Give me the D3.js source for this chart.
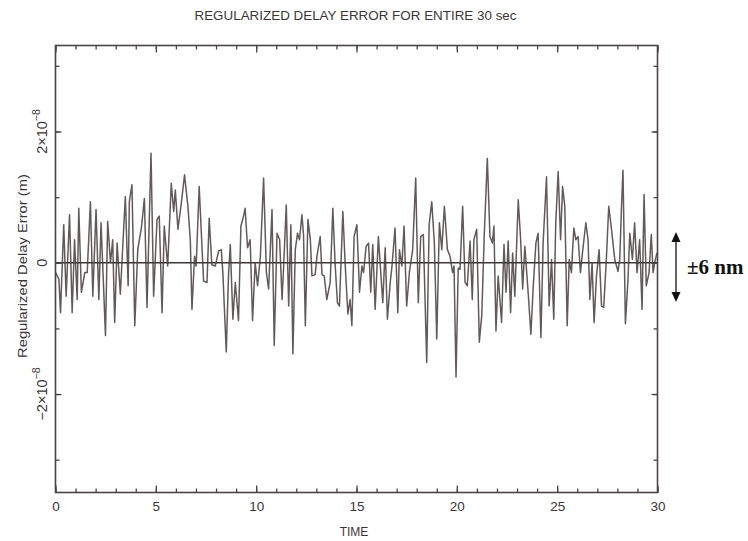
<!DOCTYPE html>
<html><head><meta charset="utf-8">
<script src="https://cdn.jsdelivr.net/npm/d3@7"></script>
<style>
html,body{margin:0;padding:0;background:#fff;}
svg{display:block;}
</style></head>
<body><svg id="c" width="748" height="541"></svg>
<script>
// Time in seconds
const timeSec = [
0.00,0.17,0.25,0.41,0.53,0.70,0.83,0.95,1.08,1.16,1.29,1.46,1.58,1.74,1.86,2.02,2.16,2.27,2.49,2.60,
2.74,2.85,2.95,3.07,3.23,3.48,3.62,3.68,3.81,3.95,4.10,4.28,4.43,4.56,4.76,4.89,5.06,5.17,5.31,5.42,
5.59,5.77,5.89,5.97,6.10,6.27,6.43,6.60,6.72,6.80,6.93,7.01,7.16,7.38,7.55,7.66,7.79,7.96,8.13,8.26,
8.34,8.51,8.62,8.71,8.84,8.96,9.12,9.24,9.37,9.45,9.57,9.70,9.82,9.95,
10.07,10.21,10.37,10.51,10.62,10.79,10.90,11.04,11.17,11.29,11.37,11.50,11.62,11.73,11.83,11.95,12.06,12.16,12.28,12.36,
12.45,12.58,12.70,12.78,12.94,13.03,13.19,13.28,13.39,13.52,13.69,13.82,13.94,14.05,14.15,14.32,14.44,14.57,14.68,14.77,
14.88,15.02,15.15,15.27,15.35,15.48,15.60,15.71,15.81,15.93,16.09,16.23,16.31,16.43,16.54,16.68,16.76,16.92,17.06,17.14,
17.26,17.37,17.50,17.64,17.80,17.95,18.08,18.20,18.33,18.50,18.62,18.75,18.88,19.00,19.13,19.25,19.38,19.53,19.66,
19.79,19.86,19.96,20.07,20.16,20.29,20.41,20.52,20.66,20.77,20.85,20.99,21.12,21.24,21.37,21.52,21.65,21.77,21.85,21.95,
22.06,22.23,22.35,22.45,22.56,22.68,22.78,22.89,23.06,23.18,23.28,23.39,23.56,23.69,23.81,23.94,24.05,24.19,24.30,24.47,
24.60,24.72,24.83,24.93,25.05,25.17,25.27,25.38,25.50,25.60,25.71,25.83,25.93,26.04,26.16,26.26,26.43,26.54,26.63,26.74,
26.84,26.96,27.09,27.21,27.32,27.45,27.57,27.70,27.87,28.03,28.12,28.20,28.28,28.40,28.53,28.62,28.75,28.86,28.98,29.11,
29.23,29.33,29.44,29.58,29.69,29.78,29.86,29.97
];
// Regularized delay error in nanometres (1e-9 m)
const errorNm = [
-1.5,-2.5,-7.6,5.8,-5.1,7.3,-7.6,3.5,-5.6,8.3,-4.5,-1.5,-1.5,9.3,-5.1,8.1,-5.6,6.1,-11.1,6.3,
0.0,3.5,-9.1,3.0,-4.8,10.1,-3.5,9.3,11.9,-9.6,2.0,5.3,9.8,-6.8,16.7,-5.1,6.6,7.1,-7.6,5.6,
-0.5,12.1,7.8,11.1,5.1,9.1,13.4,8.6,3.3,-7.1,1.0,-0.5,11.6,-2.8,-3.0,6.8,-0.3,-0.5,1.8,2.0,
-1.5,-13.6,-2.0,2.8,-8.6,-3.0,-8.8,5.6,7.1,8.3,2.3,3.5,-8.8,0.0,
-3.5,1.0,12.9,-1.5,-4.0,8.1,-12.6,4.5,3.5,-5.6,-0.5,8.8,-6.6,5.8,-13.9,2.0,4.5,3.5,7.3,4.3,
-9.6,6.6,3.5,-2.0,-1.8,1.0,4.0,-1.8,-2.0,-5.6,-3.0,8.3,-0.5,-6.1,-6.6,7.8,-0.5,-7.8,-5.6,-9.6,
4.0,5.8,-4.5,-0.5,-1.5,2.5,3.0,-4.5,2.8,-7.1,4.0,-2.5,-6.1,2.3,-8.6,-3.0,-0.8,5.3,-7.6,2.0,
-0.5,5.6,-6.6,-1.3,2.0,12.9,-6.1,4.0,4.3,-15.2,5.8,9.3,3.0,-11.6,6.1,2.0,8.6,2.0,1.0,
-1.5,-0.5,-17.4,-0.8,-1.0,8.6,-3.0,-3.5,3.3,-5.6,3.5,5.1,-12.1,-8.1,4.5,15.9,4.0,3.0,5.6,-10.4,
-2.0,-9.1,2.8,-4.5,3.3,-7.6,1.5,-5.1,9.6,3.5,-4.0,2.5,-4.8,-10.9,-3.5,3.0,4.5,-11.4,3.0,13.1,
-6.6,0.5,-8.6,6.1,13.9,3.5,11.6,8.6,-9.6,0.5,-1.5,5.3,3.5,4.0,-1.5,1.5,6.1,3.5,-5.6,0.0,
-9.1,-2.0,2.0,-6.6,-6.8,0.5,8.6,5.3,0.5,-1.3,0.5,8.1,14.1,-9.3,-2.5,4.5,0.5,6.1,-1.5,3.5,
-7.1,10.4,-3.5,-1.5,4.3,-1.5,0.0,1.5
];
const xMajorTicks = [0,5,10,15,20,25,30];
const xMinorTicks = d3.range(0,31,1);
const yMajorTicks = [-20,0,20];
const yMinorTicks = [-30,-20,-10,0,10,20,30];
const yTickLabels = {"-20":["−2×10","−8"],"0":["0",""],"20":["2×10","−8"]};

const svg = d3.select("#c");
const L=55.5, R=657.5, T=45.5, B=492.5;
const x = d3.scaleLinear().domain([0,30]).range([L,R]);
const y = d3.scaleLinear().domain([-35,33.1]).range([B,T]);
const axisColor = "#4a4444";
const textColor = "#3a3636";
const sans = "Liberation Sans, Arial, sans-serif";

// title
svg.append("text").attr("x",355.5).attr("y",19.5).attr("text-anchor","middle")
  .attr("font-family",sans).attr("font-size",13.5)
  .attr("fill",textColor).attr("textLength",322).attr("lengthAdjust","spacingAndGlyphs")
  .text("REGULARIZED DELAY ERROR FOR ENTIRE 30 sec");

// data line
const line = d3.line().x((d,i)=>x(timeSec[i])).y(d=>y(d));
svg.append("path").datum(errorNm).attr("d",line).attr("fill","none")
  .attr("stroke","#625a5a").attr("stroke-width",1.5).attr("stroke-linejoin","round");

// zero line
svg.append("line").attr("x1",L).attr("x2",R).attr("y1",y(0)).attr("y2",y(0))
  .attr("stroke","#3e3838").attr("stroke-width",1.7);

// axes ticks (inward)
function styleAxis(g){ g.select(".domain").remove(); g.selectAll("line").attr("stroke",axisColor).attr("stroke-width",1.3); }
svg.append("g").attr("transform",`translate(0,${B})`).call(d3.axisBottom(x).tickValues(xMinorTicks).tickSize(-4).tickFormat("")).call(styleAxis);
svg.append("g").attr("transform",`translate(0,${B})`).call(d3.axisBottom(x).tickValues(xMajorTicks).tickSize(-7).tickPadding(9).tickFormat(d3.format("d"))).call(styleAxis)
  .selectAll("text").attr("font-family",sans).attr("font-size",13.5).attr("fill",textColor);
svg.append("g").attr("transform",`translate(0,${T})`).call(d3.axisTop(x).tickValues(xMinorTicks).tickSize(-4).tickFormat("")).call(styleAxis);
svg.append("g").attr("transform",`translate(0,${T})`).call(d3.axisTop(x).tickValues(xMajorTicks).tickSize(-7).tickFormat("")).call(styleAxis);
svg.append("g").attr("transform",`translate(${L},0)`).call(d3.axisLeft(y).tickValues(yMinorTicks).tickSize(-4).tickFormat("")).call(styleAxis);
svg.append("g").attr("transform",`translate(${L},0)`).call(d3.axisLeft(y).tickValues(yMajorTicks).tickSize(-6).tickFormat("")).call(styleAxis);
svg.append("g").attr("transform",`translate(${R},0)`).call(d3.axisRight(y).tickValues(yMinorTicks).tickSize(-4).tickFormat("")).call(styleAxis);
svg.append("g").attr("transform",`translate(${R},0)`).call(d3.axisRight(y).tickValues(yMajorTicks).tickSize(-6).tickFormat("")).call(styleAxis);

// frame
svg.append("rect").attr("x",L).attr("y",T).attr("width",R-L).attr("height",B-T)
  .attr("fill","none").attr("stroke",axisColor).attr("stroke-width",1.6);

// y tick labels (rotated)
yMajorTicks.forEach(v=>{
  const lab = yTickLabels[String(v)];
  const t = svg.append("text").attr("transform",`translate(46.5,${y(v)}) rotate(-90)`)
    .attr("text-anchor","middle").attr("font-family",sans)
    .attr("font-size",14.5).attr("fill",textColor);
  t.append("tspan").text(lab[0]);
  if(lab[1]) t.append("tspan").attr("dy",-7).attr("font-size",10.5).text(lab[1]);
});

// axis titles
svg.append("text").attr("x",354).attr("y",536).attr("text-anchor","middle")
  .attr("font-family",sans).attr("font-size",12).attr("fill",textColor).text("TIME");
svg.append("text").attr("transform","translate(26.5,266) rotate(-90)").attr("text-anchor","middle")
  .attr("font-family",sans).attr("font-size",13.5).attr("fill",textColor)
  .attr("textLength",184).attr("lengthAdjust","spacingAndGlyphs")
  .text("Regularized Delay Error (m)");

// ±6 nm annotation
const ax = 676, ay1 = 232, ay2 = 302;
svg.append("line").attr("x1",ax).attr("x2",ax).attr("y1",ay1+6).attr("y2",ay2-6).attr("stroke","#111").attr("stroke-width",1.3);
svg.append("path").attr("d",`M${ax},${ay1} L${ax-4.5},${ay1+10} L${ax+4.5},${ay1+10} Z`).attr("fill","#111");
svg.append("path").attr("d",`M${ax},${ay2} L${ax-4.5},${ay2-10} L${ax+4.5},${ay2-10} Z`).attr("fill","#111");
svg.append("text").attr("x",687).attr("y",274).attr("font-family","Liberation Serif, Times New Roman, serif")
  .attr("font-weight","bold").attr("font-size",21).attr("fill","#111").text("±6 nm");
</script></body></html>
